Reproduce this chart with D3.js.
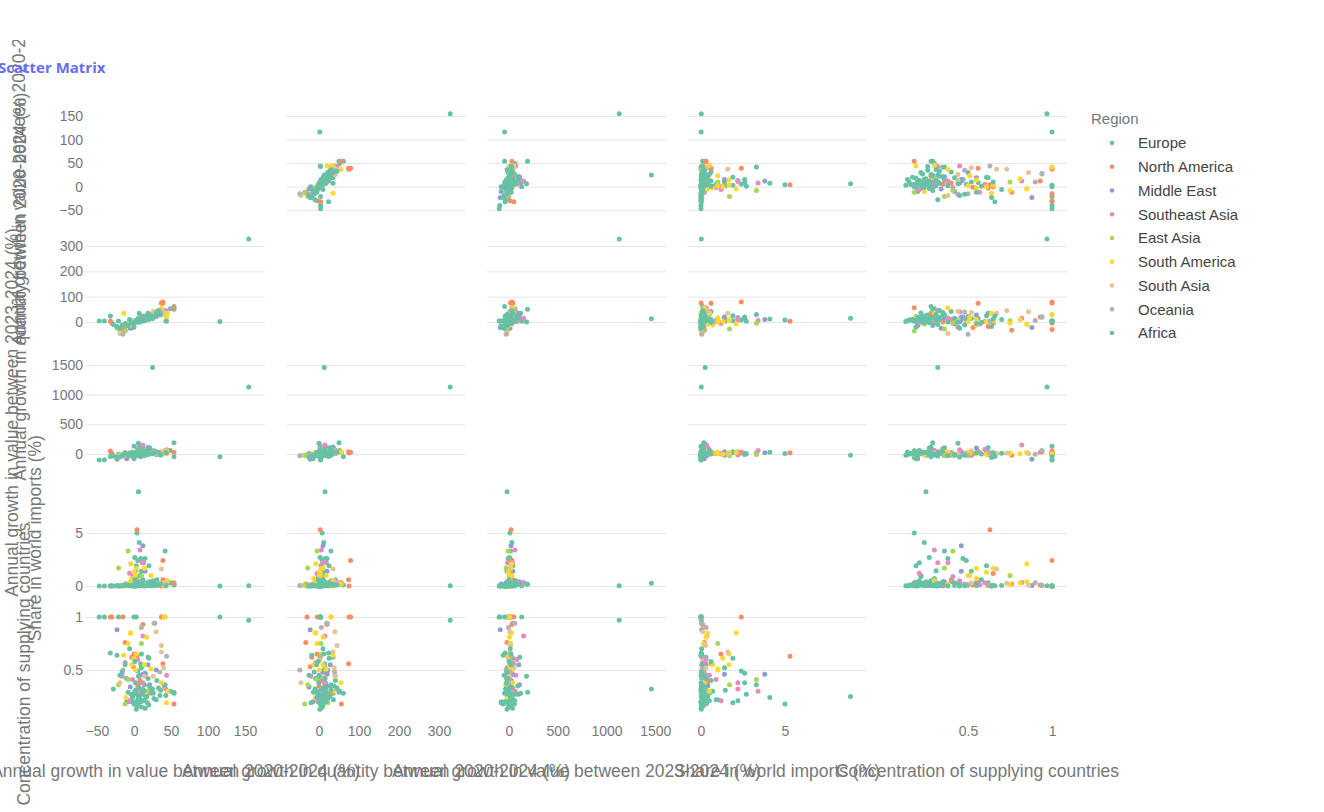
<!DOCTYPE html>
<html>
<head>
<meta charset="utf-8">
<script src="https://cdn.jsdelivr.net/npm/d3@7"></script>
<style>
  body { margin: 0; background: #fff; }
  svg { display: block; font-family: "Liberation Sans", Arial, sans-serif; }
</style>
</head>
<body>
<div id="chart"></div>
<script>
// dimensions of the matrix, in plot order
const dimensions = [
  "Annual growth in value between 2020-2024 (%)",
  "Annual growth in quantity between 2020-2024 (%)",
  "Annual growth in value between 2023-2024 (%)",
  "Share in world imports (%)",
  "Concentration of supplying countries"
];
const tickValues = [
  [-50, 0, 50, 100, 150],
  [0, 100, 200, 300],
  [0, 500, 1000, 1500],
  [0, 5],
  [0.5, 1]
];

const regions = ["Europe", "North America", "Middle East", "Southeast Asia", "East Asia",
  "South America", "South Asia", "Oceania", "Africa"];
const regionColors = ["#66c2a5", "#fc8d62", "#8da0cb", "#e78ac3", "#a6d854",
  "#ffd92f", "#e5c494", "#b3b3b3", "#66c2a5"];

// one row per country: [value 20-24, quantity 20-24, value 23-24, share, concentration]
const europe = [
  [155, 328, 1130, 0.02, 0.97], [25, 13, 1460, 0.25, 0.32], [6, 15, -20, 8.9, 0.25],
  [4, 8, 10, 5.0, 0.18], [7, 12, 30, 4.1, 0.24], [42, 30, 15, 3.3, 0.36],
  [1, 3, 5, 2.7, 0.27], [9, 16, 12, 2.6, 0.38], [15, 20, -8, 2.6, 0.47],
  [5, 8, 15, 2.4, 0.49], [3, 5, 22, 1.9, 0.19], [13, 18, 8, 2.2, 0.21],
  [20, 25, 40, 1.9, 0.61], [10, 15, -20, 1.4, 0.52], [2, 4, -10, 1.45, 0.31],
  [8, 12, 10, 1.0, 0.22], [5, 6, 5, 0.9, 0.22], [0, 3, 130, 0.0, 1.0],
  [3, 4, -10, 0.01, 1.0], [-21, 4, -5, 0.0, 1.0], [28, 20, 40, 0.05, 0.94],
  [54, 50, 190, 0.16, 0.29], [54, 61, -45, 0.1, 0.28], [49, 52, 60, 0.3, 0.30],
  [41, 38, 20, 0.4, 0.35], [31, 41, 25, 0.6, 0.40], [19, 35, 110, 0.3, 0.62],
  [7, 35, 120, 0.2, 0.28], [12, 24, 100, 0.3, 0.27], [10, 8, -5, 0.05, 0.15],
  [3, 2, -20, 0.02, 0.13], [-5, -2, -35, 0.01, 0.20], [16, 12, 25, 0.1, 0.24],
  [8, 5, 0, 0.3, 0.27], [22, 18, 35, 0.2, 0.33], [-10, -8, -25, 0.05, 0.42],
  [12, 10, 8, 0.6, 0.30], [6, 4, -15, 0.4, 0.25], [18, 22, 15, 0.15, 0.19],
  [-3, 0, 10, 0.2, 0.22], [26, 30, 50, 0.5, 0.28], [14, 17, -30, 0.1, 0.36],
  [1, -3, 18, 0.7, 0.30], [9, 14, 45, 0.25, 0.56], [35, 28, -10, 0.08, 0.26]
];
const northAmerica = [
  [4, 3, 20, 5.3, 0.63], [39, 79, 30, 2.4, 1.0], [37, 75, 15, 0.01, 1.0],
  [-32, 4, 50, 0.01, 1.0], [-30, -4, 10, 0.0, 1.0], [-15, -30, -20, 0.0, 1.0],
  [12, 20, 30, 0.1, 0.93], [0, -5, 5, 1.19, 0.65], [-12, -33, -20, 0.2, 0.76],
  [54, 56, 30, 0.3, 0.18], [39, 74, 40, 0.6, 0.56], [-3, -18, -10, 0.05, 0.62],
  [-1, -22, 0, 0.1, 0.53], [8, 10, -15, 0.4, 0.40], [22, 30, 15, 0.08, 0.28],
  [5, 0, 10, 0.02, 0.35]
];
const middleEast = [
  [12, 10, 20, 3.8, 0.46], [19, 28, 100, 0.3, 0.55], [-23, -22, -90, 0.05, 0.88],
  [-10, -15, -80, 0.2, 0.20], [0, 5, -60, 0.1, 0.18], [21, 15, 107, 0.4, 0.36],
  [8, 0, -30, 0.3, 0.45], [-5, -25, 10, 0.05, 0.34], [15, 20, 40, 1.4, 0.46],
  [30, 22, -10, 0.15, 0.50]
];
const southeastAsia = [
  [8, 6, 60, 3.4, 0.30], [11, 9, 35, 2.2, 0.32], [12, 14, -15, 2.2, 0.38],
  [-2, 0, 10, 0.9, 0.41], [-6, -3, 0, 1.2, 0.21], [12, 15, 150, 0.34, 0.82],
  [-12, -8, 20, 0.1, 0.57], [43, 45, 30, 0.2, 0.32], [44, 40, 70, 0.5, 0.45],
  [-16, -20, -10, 0.05, 0.44], [5, 2, 80, 0.3, 0.60]
];
const eastAsia = [
  [-8, -5, -10, 3.3, 0.41], [-21, -28, -30, 1.7, 0.36], [42, 30, 0, 0.0, 1.0],
  [-12, -36, -20, 0.1, 0.18], [10, 5, 15, 1.0, 0.75], [18, 12, -5, 0.2, 0.30]
];
const southAmerica = [
  [-4.5, -8, 25, 2.1, 0.85], [3, 5, 15, 1.67, 0.65], [0, 2, -5, 1.3, 0.61],
  [14, 10, 20, 1.67, 0.55], [23, 18, 10, 1.0, 0.51], [41, 30, 5, 0.02, 1.0],
  [-5, -10, 20, 0.4, 0.85], [17, 10, 5, 0.3, 0.81], [-8, -5, 10, 0.15, 0.75],
  [-14, 35, 0, 0.0, 0.64], [37, 55, 40, 0.2, 0.38], [44, 20, 50, 0.3, 0.19],
  [-11, -9, -15, 0.05, 0.24], [45, 35, 10, 0.5, 0.30], [-3, -13, 5, 0.7, 0.55],
  [2, 1, 30, 1.0, 0.50]
];
const southAsia = [
  [37, 45, 15, 0.27, 0.73], [30, 40, 10, 0.1, 0.86], [37, 35, 10, 1.6, 0.67],
  [40, 38, 50, 0.3, 0.52], [-19, -45, -20, 0.05, 0.38], [26, 41, 5, 0.1, 0.44],
  [14, 10, 0, 0.2, 0.44]
];
const oceania = [
  [27, 20, 60, 0.03, 0.94], [-15, -48, -30, 0.05, 0.50], [44, 3, 20, 0.1, 0.63],
  [35, 39, 10, 0.2, 0.48], [10, 6, -5, 0.3, 0.90]
];
const africa = [
  [116, 2, -45, 0.01, 1.0], [-47, 4, -100, 0.0, 1.0], [-40, 4, -95, 0.0, 1.0],
  [-32, 24, -40, 0.02, 0.66], [-23, -18, -60, 0.0, 0.64], [-19, -25, -50, 0.01, 0.45],
  [-28, -10, -35, 0.0, 0.32], [-16, -12, -20, 0.02, 0.48], [-12, -6, 20, 0.05, 0.55],
  [-8, -14, -15, 0.1, 0.29], [-2, -5, 30, 0.03, 0.24], [2, 0, -25, 0.0, 0.38],
  [5, 3, 55, 0.04, 0.18], [7, 10, 15, 0.06, 0.33], [9, 6, -45, 0.02, 0.20],
  [11, 14, 70, 0.1, 0.27], [13, 9, -5, 0.01, 0.31], [4, 8, 10, 0.12, 0.16],
  [17, 26, 20, 0.05, 0.25], [19, 15, -10, 0.3, 0.42], [21, 28, 90, 0.15, 0.35],
  [24, 18, 5, 0.02, 0.29], [30, 36, 40, 0.08, 0.22], [36, 30, -20, 0.2, 0.31],
  [43, 4, 25, 0.03, 0.26], [0, -20, -80, 0.0, 0.19], [6, 0, 180, 0.2, 0.44],
  [-6, 10, 12, 0.04, 0.70], [1, -2, 0, 0.6, 0.58], [15, 5, 35, 0.01, 0.14],
  [8, 18, -12, 0.1, 0.20], [27, 22, 15, 0.25, 0.23], [3, 6, 5, 0.35, 0.19],
  [-4, -3, -8, 0.08, 0.27], [10, 12, 20, 0.04, 0.65], [12, 4, 60, 0.5, 0.21],
  [20, 10, 3, 0.02, 0.17], [33, 45, 30, 0.1, 0.33]
];
const regionRows = [europe, northAmerica, middleEast, southeastAsia, eastAsia,
  southAmerica, southAsia, oceania, africa];

const width = 1324;
const height = 812;

// grid of cells
const colLeft = [86, 286.5, 487, 687.5, 888];
const cellW = 179;
const rowTop = [109, 234.75, 360.5, 486.25, 612];
const cellH = 104;
const xDomains = [[-64.9, 177], [-81.25, 366.25], [-225.6, 1610], [-0.8, 9.85], [0.024, 1.089]];
const yDomains = [[-55.9, 164.9], [-66.1, 344.4], [-177, 1576.7], [-0.4, 9.41], [0.066, 1.047]];

const tickColor = "#777";
const gridColor = "#e6e6e6";

const svg = d3.select("#chart").append("svg")
    .attr("width", width)
    .attr("height", height);

const x = dimensions.map((d, j) => d3.scaleLinear()
    .domain(xDomains[j])
    .range([colLeft[j], colLeft[j] + cellW]));
const y = dimensions.map((d, i) => d3.scaleLinear()
    .domain(yDomains[i])
    .range([rowTop[i] + cellH, rowTop[i]]));

const fmt = d3.format("~g");

// horizontal gridlines, only in off-diagonal cells
for (let i = 0; i < 5; i++) {
    for (let j = 0; j < 5; j++) {
        if (i === j) continue;
        svg.append("g")
            .attr("transform", `translate(${colLeft[j]},0)`)
            .call(d3.axisLeft(y[i]).tickValues(tickValues[i]).tickSize(-cellW).tickFormat(""))
            .call(g => g.select(".domain").remove())
            .call(g => g.selectAll("line").attr("stroke", gridColor).attr("stroke-width", 1));
    }
}

// y tick labels on the left
const yTitleX = [];
for (let i = 0; i < 5; i++) {
    const g = svg.append("g")
        .attr("transform", `translate(${colLeft[0]},0)`)
        .call(d3.axisLeft(y[i]).tickValues(tickValues[i]).tickSize(0).tickPadding(3).tickFormat(fmt));
    g.select(".domain").remove();
    g.selectAll("text")
        .attr("fill", tickColor)
        .style("font-size", "14px")
        .style("font-family", '"Liberation Sans", Arial, sans-serif');
    let maxW = 0;
    g.selectAll("text").each(function () { maxW = Math.max(maxW, this.getComputedTextLength()); });
    yTitleX.push(colLeft[0] - 3 - maxW - 40);
}

// x tick labels along the bottom
for (let j = 0; j < 5; j++) {
    const g = svg.append("g")
        .attr("transform", `translate(0,${rowTop[4] + cellH})`)
        .call(d3.axisBottom(x[j]).tickValues(tickValues[j]).tickSize(0).tickPadding(10).tickFormat(fmt));
    g.select(".domain").remove();
    g.selectAll("text")
        .attr("fill", tickColor)
        .style("font-size", "14px")
        .style("font-family", '"Liberation Sans", Arial, sans-serif');
}

// points
const points = [];
regionRows.forEach((rows, r) => rows.forEach(v => points.push({ region: r, v })));

for (let i = 0; i < 5; i++) {
    for (let j = 0; j < 5; j++) {
        if (i === j) continue;
        svg.append("g")
            .selectAll("circle")
            .data(points)
            .enter().append("circle")
            .attr("cx", d => x[j](d.v[j]))
            .attr("cy", d => y[i](d.v[i]))
            .attr("r", 2.5)
            .style("fill", d => regionColors[d.region]);
    }
}

// axis titles
svg.append("g")
    .selectAll("text")
    .data(dimensions)
    .enter().append("text")
    .attr("x", (d, j) => colLeft[j] + cellW / 2)
    .attr("y", 777)
    .attr("text-anchor", "middle")
    .attr("fill", tickColor)
    .style("font-size", "17.5px")
    .text(d => d);

svg.append("clipPath").attr("id", "ytitle-clip")
    .append("rect").attr("x", -20).attr("y", 40).attr("width", 120).attr("height", 800);

svg.append("g")
    .attr("clip-path", "url(#ytitle-clip)")
    .selectAll("text")
    .data(dimensions)
    .enter().append("text")
    .attr("transform", (d, i) => `translate(${yTitleX[i]},${rowTop[i] + cellH / 2}) rotate(-90)`)
    .attr("text-anchor", "middle")
    .attr("dy", "0.35em")
    .attr("fill", tickColor)
    .style("font-size", "17.5px")
    .text(d => d);

// chart title
svg.append("text")
    .attr("x", -2)
    .attr("y", 73)
    .attr("fill", "#636efa")
    .style("font-family", '"Open Sans", sans-serif')
    .style("font-weight", "bold")
    .style("font-size", "15px")
    .text("Scatter Matrix");

// legend
const legend = svg.append("g").attr("transform", "translate(1091,0)");
legend.append("text")
    .attr("x", 0)
    .attr("y", 124)
    .attr("fill", tickColor)
    .style("font-size", "15px")
    .text("Region");
const items = legend.selectAll(".item")
    .data(regions)
    .enter().append("g")
    .attr("class", "item")
    .attr("transform", (d, k) => `translate(0,${143 + k * 23.75})`);
items.append("circle")
    .attr("cx", 21)
    .attr("cy", 0)
    .attr("r", 2.3)
    .style("fill", (d, k) => regionColors[k]);
items.append("text")
    .attr("x", 47)
    .attr("y", 0)
    .attr("dy", "0.35em")
    .attr("fill", "#444")
    .style("font-size", "15px")
    .text(d => d);
</script>
</body>
</html>
